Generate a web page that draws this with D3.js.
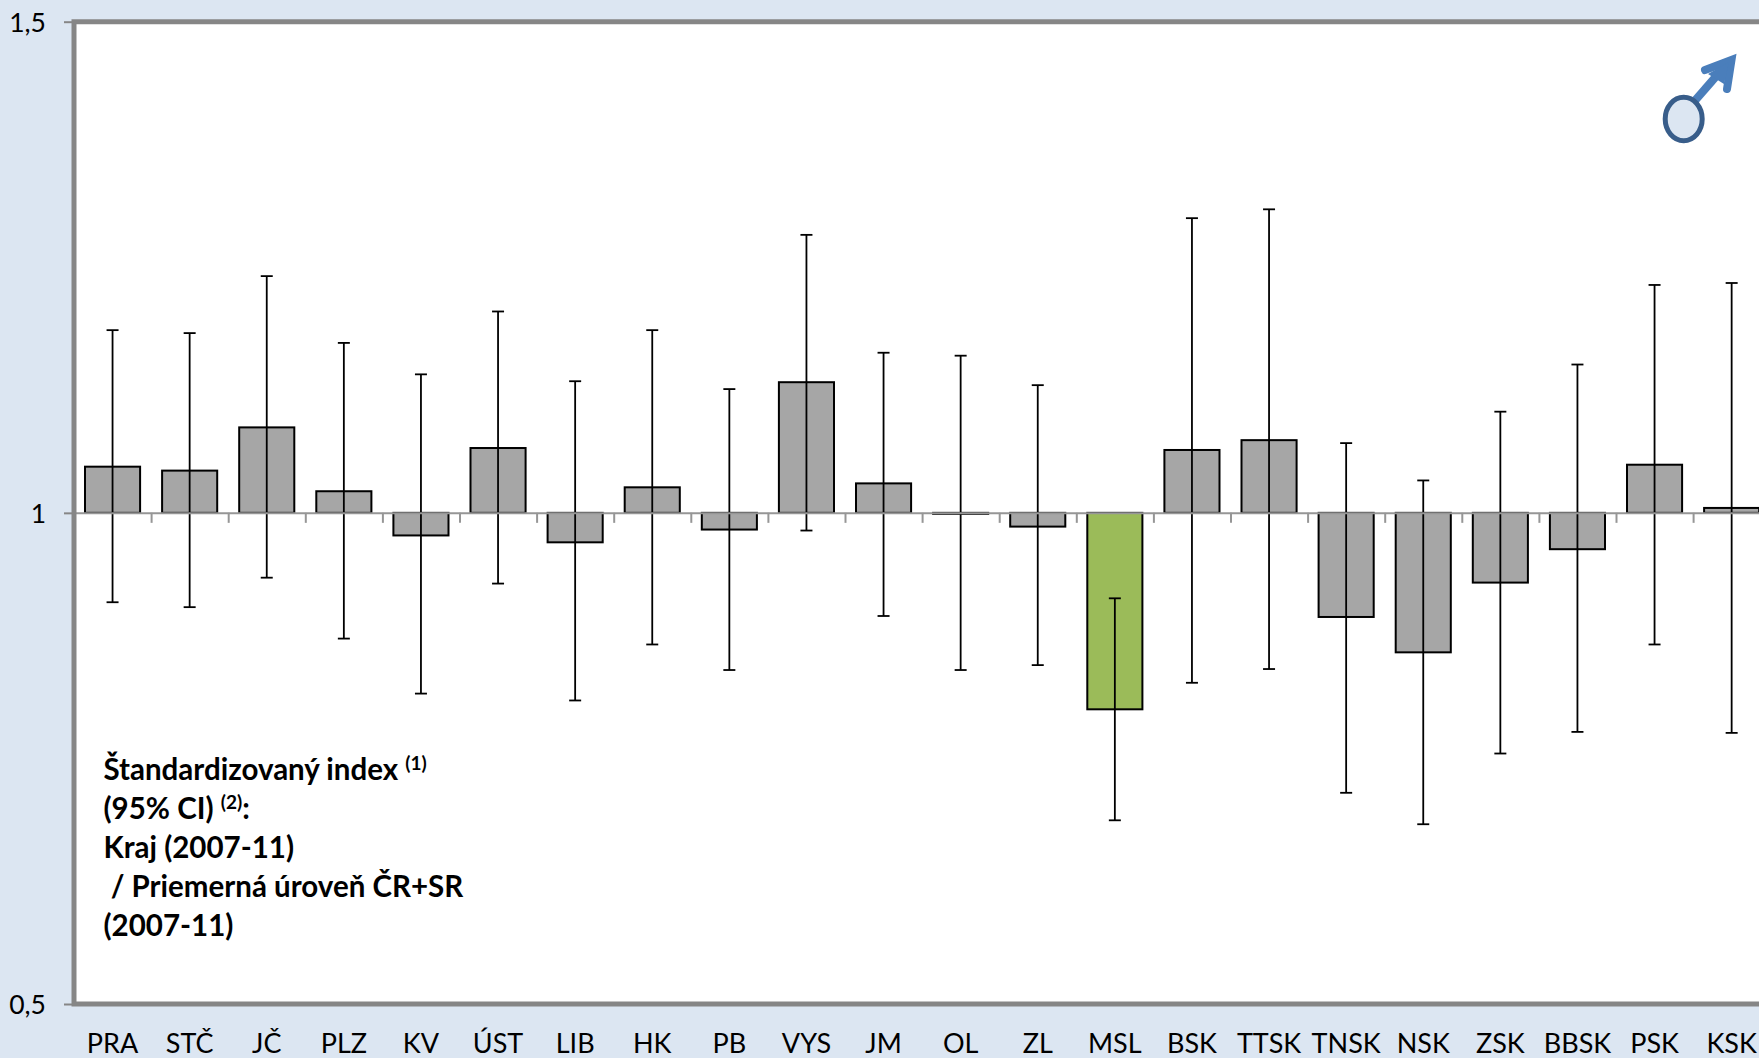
<!DOCTYPE html>
<html><head><meta charset="utf-8">
<script src="https://cdn.jsdelivr.net/npm/d3@7"></script>
<style>
html,body{margin:0;padding:0;background:#DCE6F2;overflow:hidden}
svg{display:block}
text{font-family:Lato,"Noto Sans",sans-serif;fill:#000}
</style></head><body>
<svg id="c" width="1759" height="1058"></svg>
<script>
const categories=["PRA","STČ","JČ","PLZ","KV","ÚST","LIB","HK","PB","VYS","JM","OL","ZL","MSL","BSK","TTSK","TNSK","NSK","ZSK","BBSK","PSK","KSK"];
const values=[1.047,1.043,1.087,1.022,0.977,1.066,0.970,1.026,0.983,1.133,1.030,0.999,0.986,0.800,1.064,1.074,0.894,0.858,0.929,0.963,1.049,1.005];
const upper=[1.186,1.183,1.241,1.173,1.141,1.205,1.134,1.186,1.126,1.283,1.163,1.160,1.130,0.913,1.300,1.309,1.071,1.033,1.103,1.151,1.232,1.234];
const lower=[0.909,0.904,0.934,0.872,0.816,0.928,0.809,0.866,0.840,0.982,0.895,0.840,0.845,0.687,0.827,0.841,0.715,0.683,0.755,0.777,0.866,0.776];
const yTicks=[0.5,1,1.5];
const highlight="MSL";
const noteLines=[["Štandardizovaný index ","(1)"],["(95% CI) ","(2)",":"],["Kraj (2007-11)"],[" / Priemerná úroveň ČR+SR"],["(2007-11)"]];

const left=74,top_=21.7,bottom=1004,step=77.1,right=left+step*categories.length;
const svg=d3.select("#c");
const y=d3.scaleLinear().domain([0.5,1.5]).range([bottom,top_]);
const x=d3.scaleBand().domain(categories).range([left,right]).paddingInner(22/77.1).paddingOuter(11/77.1);
const edge=d3.scaleLinear().domain([0,categories.length]).range([left,right]);

svg.append("rect").attr("x",left).attr("y",top_).attr("width",right-left+20).attr("height",bottom-top_)
  .attr("fill","#fff");

const rows=categories.map((c,i)=>({c,v:values[i],hi:upper[i],lo:lower[i]}));
svg.append("g").selectAll("rect").data(rows).join("rect")
  .attr("x",d=>x(d.c)).attr("width",x.bandwidth())
  .attr("y",d=>y(Math.max(d.v,1))).attr("height",d=>Math.abs(y(d.v)-y(1)))
  .attr("fill",d=>d.c===highlight?"#9BBB59":"#A6A6A6")
  .attr("stroke","#000").attr("stroke-width",2);

const err=svg.append("g").attr("stroke","#000").attr("stroke-width",1.8).attr("fill","none");
const cx=d=>x(d.c)+x.bandwidth()/2;
err.selectAll(".s").data(rows).join("line").attr("class","s").attr("x1",cx).attr("x2",cx).attr("y1",d=>y(d.hi)).attr("y2",d=>y(d.lo));
err.selectAll(".h").data(rows).join("line").attr("class","h").attr("x1",d=>cx(d)-6).attr("x2",d=>cx(d)+6).attr("y1",d=>y(d.hi)).attr("y2",d=>y(d.hi));
err.selectAll(".l").data(rows).join("line").attr("class","l").attr("x1",d=>cx(d)-6).attr("x2",d=>cx(d)+6).attr("y1",d=>y(d.lo)).attr("y2",d=>y(d.lo));

// category axis line at index = 1, with ticks at band edges
const ax=svg.append("g").attr("transform",`translate(0,${y(1)})`)
  .call(d3.axisBottom(edge).tickValues(d3.range(1,categories.length+1)).tickSize(10).tickSizeOuter(0).tickFormat(""));
ax.selectAll("line").attr("stroke","#969696").attr("stroke-width",2);
ax.select(".domain").attr("stroke","#969696").attr("stroke-width",2);

// category labels
const lab=svg.append("g").attr("transform",`translate(0,${bottom})`)
  .call(d3.axisBottom(x).tickSize(0).tickPadding(0));
lab.select(".domain").remove();
lab.selectAll("text").attr("dy",null).attr("y",48.5).style("font-family","Lato").style("font-size","27px").attr("fill","#000");

// value axis
const ya=svg.append("g").attr("transform",`translate(${left},0)`)
  .call(d3.axisLeft(y).tickValues(yTicks).tickSize(10).tickPadding(18)
    .tickFormat(d=>String(d).replace(".",",")));
ya.select(".domain").remove();
ya.selectAll("line").attr("stroke","#868686").attr("stroke-width",2);
ya.selectAll("text").style("font-family","Lato").style("font-size","26.5px").attr("fill","#000").attr("dy","0.36em");

// frame
svg.append("path").attr("d",`M${right+20},${top_}H${left}V${bottom}H${right+20}`)
  .attr("fill","none").attr("stroke","#868686").attr("stroke-width",5);

// note
const note=svg.append("text").style("font-weight","700").style("font-size","29.5px");
noteLines.forEach((parts,i)=>{
  const ln=note.append("tspan").attr("x",103.5).attr("y",780+i*39);
  parts.forEach(p=>{
    const sup=p==="(1)"||p==="(2)";
    ln.append("tspan").attr("xml:space","preserve").style("white-space","pre").text(p)
      .style("font-size",sup?"19px":null).attr("dy",sup?-10:(p===":"?10:null));
  });
});

// male symbol
const sym=svg.append("g");
sym.append("path").attr("d","M1692,104L1726,65").attr("stroke","#4A7EBB").attr("stroke-width",8).attr("fill","none");
sym.append("path").attr("d","M1705,70L1731.5,60L1727,89").attr("stroke","#4A7EBB").attr("stroke-width",8)
  .attr("fill","none").attr("stroke-linecap","round").attr("stroke-linejoin","miter").attr("stroke-miterlimit",10);
sym.append("path").attr("d","M1708,74L1729,62L1724,84Z").attr("fill","#4A7EBB");
sym.append("ellipse").attr("cx",1683.7).attr("cy",119).attr("rx",18.5).attr("ry",21.7)
  .attr("fill","#DCE6F2").attr("stroke","#385D8A").attr("stroke-width",5);
</script></body></html>
